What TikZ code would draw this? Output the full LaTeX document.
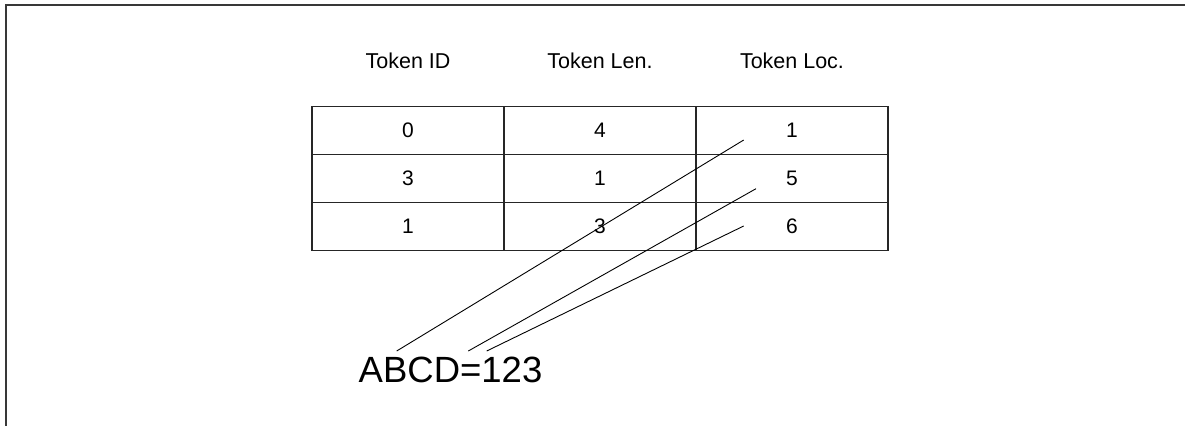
\documentclass[tikz,border=0pt]{standalone}
\usepackage{fontspec}
\setmainfont{Liberation Sans}
\begin{document}
\begin{tikzpicture}[x=1pt,y=-1pt,
  frameline/.style={draw=black!78, line width=2pt},
  cell/.style={draw=black!85, line width=1.2pt, minimum width=192pt, minimum height=48pt, inner sep=0pt, font=\fontsize{21}{24}\selectfont},
  header/.style={anchor=base, inner sep=0pt, font=\fontsize{21.5}{25}\selectfont},
  link/.style={draw=black, line width=0.9pt},
  bigtext/.style={anchor=base west, inner sep=0pt, font=\fontsize{36.5}{42}\selectfont}]
\useasboundingbox (0,0) rectangle (1185,426);
% frame
\coordinate (fTL) at (5.8,4.8);
\coordinate (fTR) at (1185,4.8);
\coordinate (fBL) at (5.8,426);
\draw[frameline] (fTR) -- (fTL) -- (fBL);
% headers
\node[header] (h1) at (408,68.3) {Token ID};
\node[header] (h2) at (600,68.3) {Token Len.};
\node[header] (h3) at (792,68.3) {Token Loc.};
% table
\node[cell] (c11) at (408,130.3) {0};
\node[cell] (c12) at (600,130.3) {4};
\node[cell] (c13) at (792,130.3) {1};
\node[cell] (c21) at (408,178.3) {3};
\node[cell] (c22) at (600,178.3) {1};
\node[cell] (c23) at (792,178.3) {5};
\node[cell] (c31) at (408,226.3) {1};
\node[cell] (c32) at (600,226.3) {3};
\node[cell] (c33) at (792,226.3) {6};
% text
\node[bigtext] (abcd) at (358.5,382.3) {ABCD=123};
% connectors
\coordinate (s1) at (396.7,351);
\coordinate (s2) at (468.3,351);
\coordinate (s3) at (486.7,351);
\coordinate (e1) at (743.7,140);
\coordinate (e2) at (756,188.7);
\coordinate (e3) at (743.7,226);
\draw[link] (s1) -- (e1);
\draw[link] (s2) -- (e2);
\draw[link] (s3) -- (e3);
\end{tikzpicture}
\end{document}
